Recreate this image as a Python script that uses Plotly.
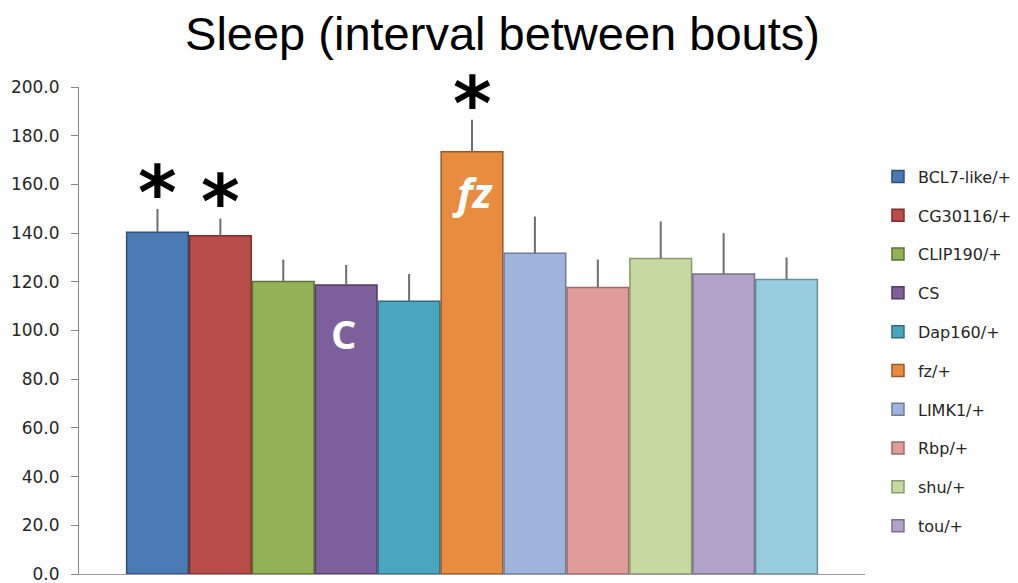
import plotly.graph_objects as go

title = "Sleep (interval between bouts)"
genotypes = ["BCL7-like/+", "CG30116/+", "CLIP190/+", "CS", "Dap160/+", "fz/+",
             "LIMK1/+", "Rbp/+", "shu/+", "tou/+", "(unlisted)"]
means = [140.3, 138.9, 120.1, 118.7, 112.0, 173.4, 131.7, 117.7, 129.6, 123.2, 120.9]
errors = [9.6, 7.1, 9.0, 8.2, 11.2, 13.1, 15.1, 11.4, 15.2, 16.8, 9.1]
colors = ["#4A7AB4", "#B74C49", "#93B156", "#7D5F9B", "#4AA5BE", "#E88C40",
          "#9FB3DC", "#DF9C9B", "#C5D9A0", "#B2A2C8", "#98CDE0"]
edge_colors = ["#2F4F78", "#7A2F2D", "#5E7434", "#513C66", "#2E6D7E", "#9A5A26",
               "#6E7D9A", "#9A6C6B", "#8A9A6E", "#7B708B", "#6A8E9C"]
star_bars = [0, 1, 5]
yticks = [0, 20, 40, 60, 80, 100, 120, 140, 160, 180, 200]

fig = go.Figure()
for i, (g, m, e) in enumerate(zip(genotypes, means, errors)):
    fig.add_trace(go.Bar(
        x=[i], y=[m], width=0.98, name=g,
        legendgroup=g, showlegend=(i < 10),
        marker=dict(color=colors[i], line=dict(color=edge_colors[i], width=1.5)),
        error_y=dict(type="data", array=[e], arrayminus=[0], symmetric=False,
                     color="#6E6E6E", thickness=2, width=0),
    ))

for i in star_bars:
    fig.add_annotation(x=i, y=means[i] + errors[i], text="<b>*</b>", showarrow=False,
                       yanchor="bottom", yshift=-29,
                       font=dict(family="DejaVu Sans", size=74, color="black"))

fig.add_annotation(x=5, y=means[5] - 16.5, text="<b><i>fz</i></b>", showarrow=False,
                   font=dict(family="Open Sans", size=42, color="white"))
fig.add_annotation(x=3, y=means[3] - 20, text="<b>C</b>", showarrow=False,
                   xshift=-2,
                   font=dict(family="Open Sans", size=40, color="white"))

fig.update_layout(
    width=1010, height=575,
    paper_bgcolor="white", plot_bgcolor="white",
    barmode="overlay",
    title=dict(text=title, x=0.4896, xanchor="center", y=1 - 26 / 575, yanchor="middle",
               font=dict(family="Liberation Sans", size=47, color="black")),
    margin=dict(l=71, r=153, t=79, b=9, autoexpand=False),
    showlegend=True,
    legend=dict(x=1.0165, xanchor="left", y=0.851, yanchor="top",
                font=dict(family="DejaVu Sans", size=16, color="#262626"),
                tracegroupgap=15, itemwidth=30, bgcolor="rgba(0,0,0,0)"),
    xaxis=dict(range=[-1.247, 11.247], showticklabels=False, ticks="",
               showgrid=False, zeroline=False, showline=True,
               linecolor="#9A9A9A", linewidth=1),
    yaxis=dict(range=[0, 200], tickvals=yticks, tickformat=".1f",
               ticks="outside", ticklen=7, tickcolor="#868686",
               ticklabelstandoff=8, ticklabeloverflow="allow",
               showgrid=False, zeroline=False, showline=True,
               linecolor="#868686", linewidth=1,
               tickfont=dict(family="DejaVu Sans", size=17, color="#262626")),
)

fig.write_html("out.html")
